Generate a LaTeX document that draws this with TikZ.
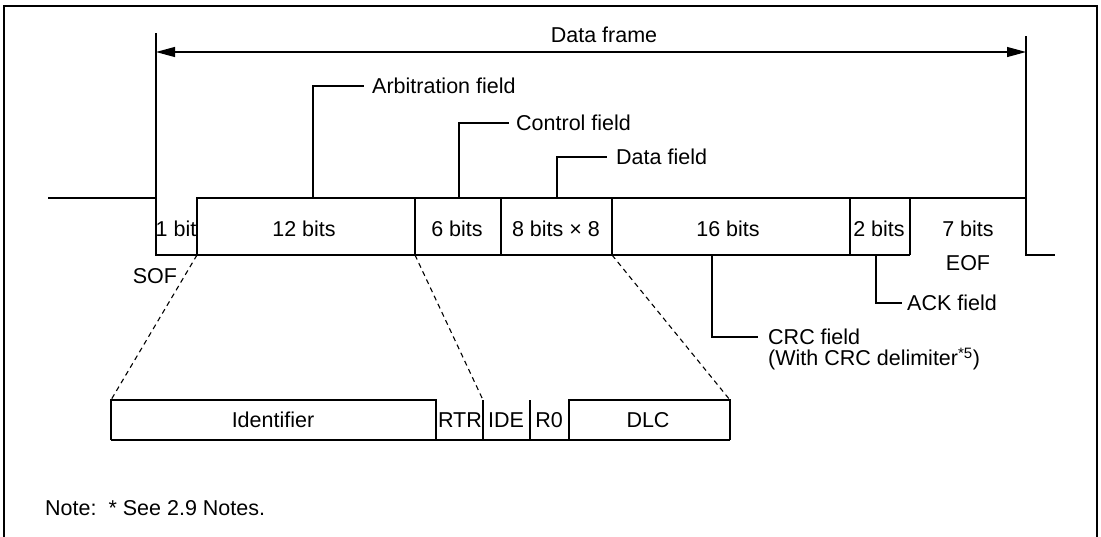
\documentclass[tikz,border=0pt]{standalone}
\usepackage{fontspec}
\setmainfont{Liberation Sans}
\usetikzlibrary{arrows.meta}
\begin{document}
\begin{tikzpicture}[x=1pt,y=-1pt,
  font=\fontsize{21.5}{25}\selectfont,
  wave/.style={line width=2pt, line join=miter},
  thinline/.style={line width=1.3pt},
  call/.style={line width=1.3pt},
  zoomline/.style={line width=1.1pt, dash pattern=on 5pt off 4pt},
  lbl/.style={inner sep=0pt},
  callt/.style={anchor=west, inner xsep=8pt, inner ysep=0pt},
  ]
\useasboundingbox (0,0) rectangle (1101,536);
% outer frame
\draw[line width=2pt] (4,540) -- (4,6) -- (1097,6) -- (1097,540);

% frame markers and arrow
\coordinate (fl) at (156,52);
\coordinate (fr) at (1026,52);
\draw[thinline] (156,33) -- (156,198);
\draw[thinline] (1026,36) -- (1026,198);
\draw[line width=1.1pt, {Triangle[length=19pt,width=10pt]}-{Triangle[length=19pt,width=10pt]}] (fl) -- (fr);
\node[lbl] (df) at (604,35) {Data frame};

% waveform
\coordinate (sofend) at (197,255);
\coordinate (arbend) at (415,255);
\coordinate (dataend) at (612,255);
\draw[wave] (48,198) -- (156,198) -- (156,255) -- (sofend) -- (197,198) -- (1026,198) -- (1026,255) -- (1055,255);
\draw[wave] (sofend) -- (910,255);
\foreach \x in {415,501,612,850,910} \draw[wave] (\x,198) -- (\x,255);

% bit labels
\node[lbl] (b1) at (176,229) {1 bit};
\node[lbl] (b12) at (304,229) {12 bits};
\node[lbl] (b6) at (457,229) {6 bits};
\node[lbl] (b64) at (556,229) {8 bits × 8};
\node[lbl] (b16) at (728,229) {16 bits};
\node[lbl] (b2) at (879,229) {2 bits};
\node[lbl] (b7) at (968,229) {7 bits};
\node[lbl] (eof) at (968,263) {EOF};
\node[lbl] (sof) at (155,276) {SOF};

% callouts
\coordinate (arbf) at (313,198);
\node[callt] (arb) at (364,86) {Arbitration field};
\draw[call] (arbf) |- (arb.west);
\coordinate (ctlf) at (459,198);
\node[callt, inner xsep=7pt] (ctl) at (509,123) {Control field};
\draw[call] (ctlf) |- (ctl.west);
\coordinate (datf) at (557,198);
\node[callt, inner xsep=9pt] (dat) at (607,157) {Data field};
\draw[call] (datf) |- (dat.west);
\coordinate (ackf) at (876,255);
\node[callt, inner xsep=5pt] (ack) at (902,303) {ACK field};
\draw[call] (ackf) |- (ack.west);
\coordinate (crcf) at (712,255);
\node[callt, inner xsep=10pt] (crc) at (758,337) {CRC field};
\node[lbl, anchor=west] (crcd) at (768,359) {(With CRC delimiter\textsuperscript{*5})};
\draw[call] (crcf) |- (crc.west);

% expanded fields
\coordinate (idl) at (111,400);
\coordinate (rtrr) at (483,400);
\coordinate (dlcr) at (730,400);
\draw[wave] (111,440) -- (idl) -- (436,400) -- (436,440);
\draw[wave] (111,440) -- (730,440);
\draw[wave] (rtrr) -- (483,440);
\draw[wave] (530,400) -- (530,440);
\draw[wave] (569,440) -- (569,400) -- (dlcr) -- (730,440);
\node[lbl] (id) at (273,420) {Identifier};
\node[lbl] (rtr) at (460,420) {RTR};
\node[lbl] (ide) at (506,420) {IDE};
\node[lbl] (r0) at (549,420) {R0};
\node[lbl] (dlc) at (648,420) {DLC};

\draw[zoomline] (sofend) -- (idl);
\draw[zoomline] (arbend) -- (rtrr);
\draw[zoomline] (dataend) -- (dlcr);

% note
\node[lbl, anchor=west] (note) at (45,508) {Note:~\ * See 2.9 Notes.};
\end{tikzpicture}
\end{document}
